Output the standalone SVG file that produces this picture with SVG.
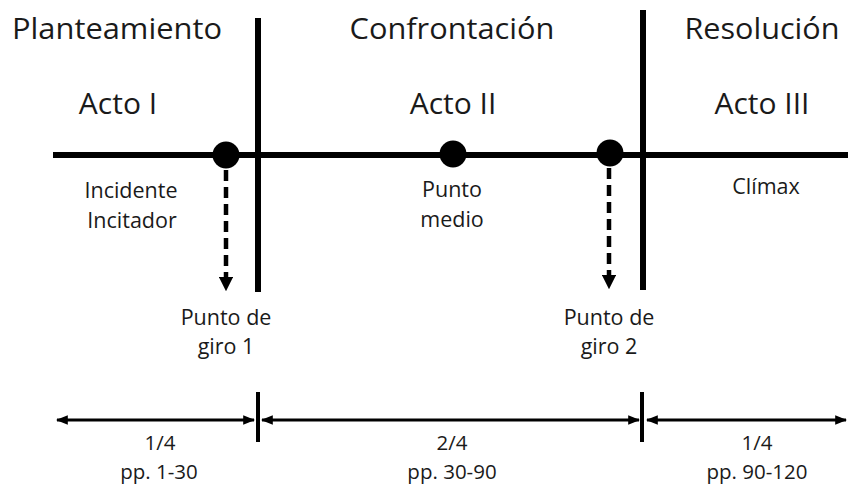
<svg xmlns="http://www.w3.org/2000/svg" width="848" height="486" viewBox="0 0 848 486">
<style>
text{font-family:"Open Sans","Noto Sans","Liberation Sans",sans-serif;fill:#1a1a1a;text-anchor:middle}
.h{font-size:30px}
.a{font-size:30px}
.s{font-size:21.5px}
.b{font-size:20.5px}
.thick{stroke:#000;stroke-width:6;fill:none}
.dash{stroke:#000;stroke-width:4.5;stroke-dasharray:11,6;fill:none}
.thin{stroke:#000;stroke-width:3;fill:none}
</style>
<defs>
<marker id="ad" viewBox="0 0 10 10" refX="5" refY="5" markerWidth="3.2" markerHeight="3.2" orient="auto"><path d="M0,0 L10,5 L0,10 z" fill="#000"/></marker>
<marker id="ah" viewBox="0 0 10 10" refX="9" refY="5" markerWidth="4" markerHeight="4" orient="auto-start-reverse"><path d="M0,1 L10,5 L0,9 z" fill="#000"/></marker>
</defs>
<g id="connectors">
<line class="thick" x1="53" y1="155" x2="848" y2="155"/>
<line class="thick" x1="258" y1="18" x2="258" y2="292"/>
<line class="thick" x1="643" y1="10" x2="643" y2="290"/>
<line class="dash" x1="226" y1="170" x2="226" y2="284" marker-end="url(#ad)"/>
<line class="dash" x1="609" y1="168" x2="609" y2="282" marker-end="url(#ad)"/>
<line class="thin" x1="57" y1="420" x2="254" y2="420" marker-start="url(#ah)" marker-end="url(#ah)"/>
<line class="thin" x1="262" y1="420" x2="639" y2="420" marker-start="url(#ah)" marker-end="url(#ah)"/>
<line class="thin" x1="647" y1="420" x2="846" y2="420" marker-start="url(#ah)" marker-end="url(#ah)"/>
<line class="thin" x1="258" y1="392" x2="258" y2="442" style="stroke-width:4"/>
<line class="thin" x1="642" y1="392" x2="642" y2="442" style="stroke-width:4"/>
</g>
<g id="headers">
<text class="h" x="117" y="39" textLength="210" lengthAdjust="spacingAndGlyphs">Planteamiento</text>
<text class="h" x="452" y="39" textLength="205" lengthAdjust="spacingAndGlyphs">Confrontación</text>
<text class="h" x="762" y="39" textLength="155" lengthAdjust="spacingAndGlyphs">Resolución</text>
</g>
<g id="acts">
<text class="a" x="118" y="114">Acto I</text>
<text class="a" x="453" y="114">Acto II</text>
<text class="a" x="762" y="114">Acto III</text>
</g>
<g id="dot1"><circle cx="226" cy="155" r="13.5" fill="#000"/>
<text class="s" x="131" y="198">Incidente</text><text class="s" x="132" y="228">Incitador</text></g>
<g id="dot2"><circle cx="453" cy="154" r="13.5" fill="#000"/>
<text class="s" x="452" y="197">Punto</text><text class="s" x="452" y="227">medio</text></g>
<g id="dot3"><circle cx="610" cy="153" r="13.5" fill="#000"/></g>
<g id="climax"><text class="s" x="766" y="194">Clímax</text></g>
<g id="pg1"><text class="s" x="226" y="325">Punto de</text><text class="s" x="226" y="354">giro 1</text></g>
<g id="pg2"><text class="s" x="609" y="325">Punto de</text><text class="s" x="609" y="354">giro 2</text></g>
<g id="seg1"><text class="b" x="160" y="450">1/4</text><text class="b" x="159" y="479">pp. 1-30</text></g>
<g id="seg2"><text class="b" x="452" y="450">2/4</text><text class="b" x="452" y="479">pp. 30-90</text></g>
<g id="seg3"><text class="b" x="757" y="450">1/4</text><text class="b" x="757" y="479">pp. 90-120</text></g>
</svg>
